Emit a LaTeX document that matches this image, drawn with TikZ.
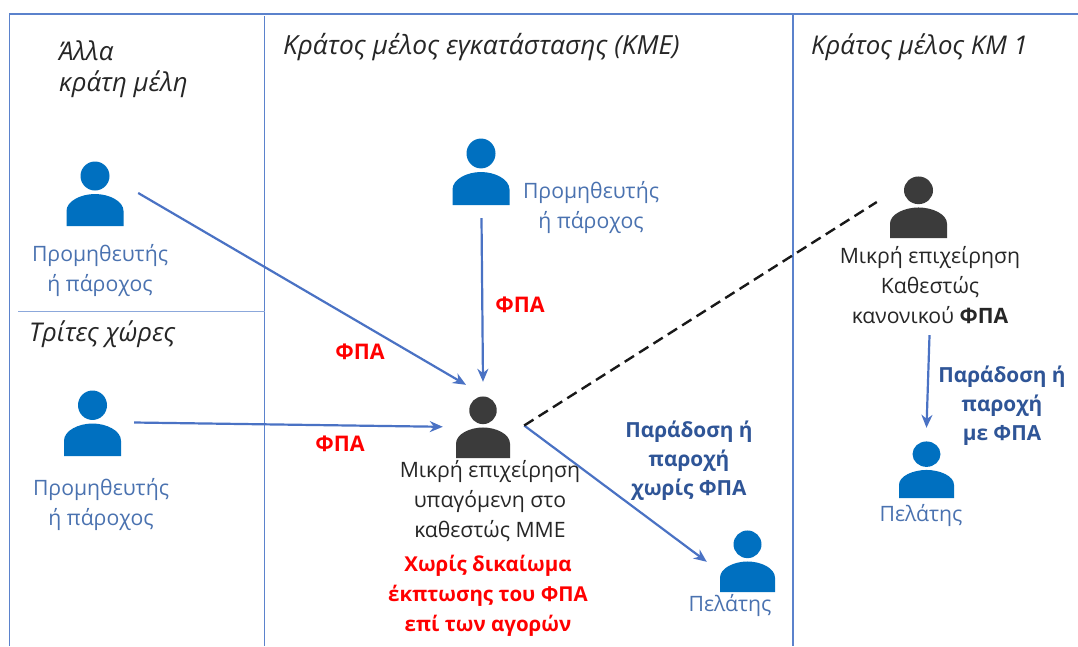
\documentclass[tikz,border=0pt]{standalone}
\usepackage{fontspec}
\setmainfont{Open Sans}
\usetikzlibrary{arrows.meta}
\definecolor{frameblue}{HTML}{5B82CC}
\definecolor{arrowblue}{HTML}{4A72C4}
\definecolor{labelblue}{HTML}{4A72B0}
\definecolor{boldblue}{HTML}{2F5597}
\definecolor{personblue}{HTML}{0070C0}
\definecolor{persondark}{HTML}{3B3B3B}
\newcommand{\drawperson}[6]{% name, cx, top, width, height, colour
  \begin{scope}[shift={(#2,#3)},xscale=#4/57,yscale=#5/65]
    \fill[#6] (0,15) circle[radius=14.5];
    \fill[#6] (-28.5,65) -- (-28.5,50) .. controls (-28.5,40) and (-14,33) .. (0,33)
       .. controls (14,33) and (28.5,40) .. (28.5,50) -- (28.5,65) -- cycle;
  \end{scope}
  \node[inner sep=0pt,minimum width=#4pt,minimum height=#5pt] (#1) at (#2,#3+#5/2) {};
}
\tikzset{
  frameline/.style={frameblue,line width=1.5pt},
  flow/.style={arrowblue,line width=2.2pt,-{Stealth[length=13pt,width=11pt]}},
  dashedlink/.style={black!90,line width=2.4pt,dash pattern=on 11pt off 6pt},
  region/.style={font=\fontsize{25.8}{29}\selectfont\itshape,color=black!85,align=left,anchor=west,inner sep=0pt},
  regionwide/.style={region,font=\fontsize{26.3}{29}\selectfont\itshape},
  role/.style={font=\fontsize{21.2}{30}\selectfont,color=labelblue,align=center,inner sep=0pt},
  firm/.style={font=\fontsize{21.2}{30}\selectfont,color=black!85,align=center,inner sep=0pt},
  tax/.style={font=\fontsize{20.5}{30}\selectfont\bfseries,color=red,align=center,inner sep=0pt},
  taxshort/.style={tax,font=\fontsize{21.5}{30}\selectfont\bfseries},
  supply/.style={font=\fontsize{20.8}{29}\selectfont\bfseries,color=boldblue,align=center,inner sep=0pt}
}
\begin{document}
\begin{tikzpicture}[x=1pt,y=-1pt]
\useasboundingbox (0,0) rectangle (1078,646);
\fill[white] (0,0) rectangle (1078,646);
% frame
\draw[frameline] (9.5,646) -- (9.5,14) -- (1078,14);
\draw[frameline] (264.5,16) -- (264.5,646);
\draw[frameline] (793,14) -- (793,646);
\draw[frameblue!70,line width=1.5pt] (18,311.5) -- (264.5,311.5);
% regions
\node[region] (r1) at (59,51) {Άλλα};
\node[region] (r1b) at (59,84) {κράτη μέλη};
\node[region] (r2) at (29,334) {Τρίτες χώρες};
\node[regionwide] (r3) at (283,47) {Κράτος μέλος εγκατάστασης (ΚΜΕ)};
\node[region] (r4) at (811,47) {Κράτος μέλος ΚΜ 1};
% persons
\drawperson{p1}{95}{161}{57}{65}{personblue}
\drawperson{p2}{481}{138}{57}{67}{personblue}
\drawperson{p3}{92.5}{390}{57}{66}{personblue}
\drawperson{sme}{483}{396}{54}{62}{persondark}
\drawperson{c1}{747.5}{530}{55}{62}{personblue}
\drawperson{km}{918.5}{176}{57}{62}{persondark}
\drawperson{c2}{926.5}{441}{55}{57}{personblue}
% labels under persons
\node[role] (l1) at (100,270) {Προμηθευτής\\ή πάροχος};
\node[role] (l2) at (591,207) {Προμηθευτής\\ή πάροχος};
\node[role] (l3) at (101,504) {Προμηθευτής\\ή πάροχος};
\node[role] (l4) at (730,605) {Πελάτης};
\node[role] (l5) at (921,515) {Πελάτης};
\node[firm] (f1) at (490,501) {Μικρή επιχείρηση\\υπαγόμενη στο\\καθεστώς ΜΜΕ};
\node[firm] (f2) at (930,285) {Μικρή επιχείρηση\\Καθεστώς\\κανονικού \textbf{ΦΠΑ}};
\node[tax] (n1) at (488,596) {Χωρίς δικαίωμα\\έκπτωσης του ΦΠΑ\\επί των αγορών};
\node[taxshort] (t1) at (360,352) {ΦΠΑ};
\node[taxshort] (t2) at (520,305) {ΦΠΑ};
\node[taxshort] (t3) at (340,444) {ΦΠΑ};
\node[supply] (s1) at (689,461) {Παράδοση ή\\παροχή\\χωρίς ΦΠΑ};
\node[supply] (s2) at (1002,406) {Παράδοση ή\\παροχή\\με ΦΠΑ};
% connector ends
\coordinate (a1s) at ([shift={(14.5,-0.5)}]p1.east);
\coordinate (a1e) at ([shift={(-17,-11)}]sme.north);
\coordinate (a2s) at ([shift={(0.5,13)}]p2.south);
\coordinate (a2e) at ([shift={(0,-14)}]sme.north);
\coordinate (a3s) at ([shift={(13,-0.5)}]p3.east);
\coordinate (a3e) at ([shift={(-13,31)}]sme.north west);
\coordinate (a4s) at ([shift={(14,-1.5)}]sme.east);
\coordinate (a4e) at ([shift={(-13,32)}]c1.north west);
\coordinate (a5e) at ([shift={(-13,-5)}]km.west);
\coordinate (a6s) at ([shift={(11,97)}]km.south);
\coordinate (a6e) at ([shift={(0,-13)}]c2.north);
% connectors
\draw[flow] (a1s) -- (a1e);
\draw[flow] (a2s) -- (a2e);
\draw[flow] (a3s) -- (a3e);
\draw[flow] (a4s) -- (a4e);
\draw[dashedlink] (a4s) -- (a5e);
\draw[flow] (a6s) -- (a6e);
\end{tikzpicture}
\end{document}
